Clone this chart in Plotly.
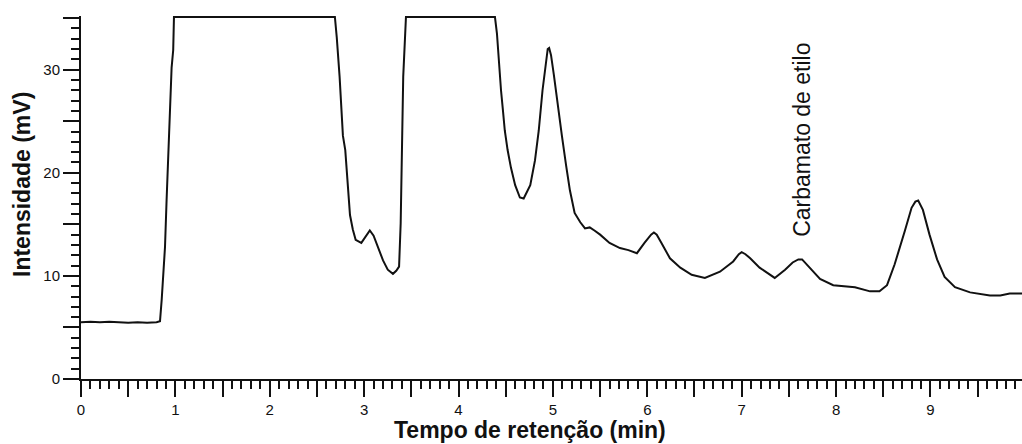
import plotly.graph_objects as go

# Chromatogram trace: retention time (min) vs detector signal (mV)
t_min = [
    0.00, 0.10, 0.20, 0.30, 0.40, 0.50, 0.60, 0.70, 0.80, 0.837,
    0.855, 0.872, 0.89, 0.907, 0.925, 0.943, 0.96, 0.977, 0.985,
    2.69, 2.71, 2.74, 2.775, 2.80, 2.83, 2.85, 2.88, 2.91, 2.97,
    3.01, 3.06, 3.10, 3.15, 3.20, 3.25, 3.305, 3.34, 3.37, 3.387,
    3.397, 3.414, 3.443,
    4.386, 4.407, 4.43, 4.45, 4.47, 4.49, 4.52, 4.555, 4.60, 4.65,
    4.69, 4.76, 4.81, 4.85, 4.89, 4.93, 4.945, 4.96, 4.98, 5.01,
    5.05, 5.095, 5.14, 5.18, 5.23, 5.29, 5.34, 5.39, 5.44, 5.50,
    5.60, 5.71, 5.80, 5.89, 5.97, 6.04, 6.07, 6.10, 6.15, 6.24,
    6.35, 6.47, 6.61, 6.77, 6.91, 6.97, 7.00, 7.04, 7.09, 7.19,
    7.35, 7.46, 7.54, 7.60, 7.64, 7.72, 7.83, 7.97, 8.20, 8.36,
    8.46, 8.54, 8.62, 8.73, 8.80, 8.84, 8.87, 8.92, 8.99, 9.07,
    9.15, 9.26, 9.42, 9.63, 9.74, 9.84, 9.97,
]
signal_mv = [
    5.5, 5.55, 5.5, 5.55, 5.5, 5.45, 5.5, 5.45, 5.5, 5.6,
    7.7, 9.9, 12.8, 17.4, 22.2, 26.1, 30.2, 31.9, 35.1,
    35.1, 33.1, 29.3, 23.6, 22.2, 17.8, 15.9, 14.5, 13.5, 13.2,
    13.7, 14.4, 13.9, 12.7, 11.5, 10.6, 10.2, 10.5, 10.9, 15.1,
    19.9, 29.3, 35.1,
    35.1, 33.5, 30.4, 28.0, 26.1, 24.1, 22.2, 20.5, 18.8, 17.6,
    17.5, 18.8, 21.2, 24.1, 28.0, 30.9, 32.0, 32.1, 31.4, 29.5,
    26.6, 23.6, 20.7, 18.3, 16.1, 15.2, 14.6, 14.7, 14.4, 14.0,
    13.2, 12.7, 12.5, 12.2, 13.2, 14.0, 14.2, 14.0, 13.2, 11.7,
    10.8, 10.1, 9.8, 10.4, 11.4, 12.1, 12.3, 12.1, 11.7, 10.8,
    9.8, 10.6, 11.3, 11.6, 11.6, 10.8, 9.7, 9.1, 8.9, 8.5,
    8.5, 9.1, 11.1, 14.4, 16.6, 17.2, 17.3, 16.4, 14.0, 11.6,
    9.9, 8.9, 8.4, 8.1, 8.1, 8.3, 8.3,
]

# Axis ticks
x_tick_vals = [i * 0.5 for i in range(20)]
x_tick_text = [str(int(v)) if v == int(v) else "" for v in x_tick_vals]
y_tick_vals = [0, 5, 10, 15, 20, 25, 30, 35]
y_tick_text = ["0", "", "10", "", "20", "", "30", ""]

x_title = "Tempo de retenção (min)"
y_title = "Intensidade (mV)"
peak_label = "Carbamato de etilo"
peak_time = 7.64

W, H = 1022, 444
L, R, T, B = 81, 0, 16, 65

fig = go.Figure()
fig.add_trace(go.Scatter(
    x=t_min, y=signal_mv, mode="lines",
    line=dict(color="#111111", width=2),
    showlegend=False, hoverinfo="skip",
))

tick_font = dict(family="Liberation Sans, Arial, sans-serif", size=15, color="#111111")

fig.update_layout(
    width=W, height=H,
    margin=dict(l=L, r=R, t=T, b=B),
    paper_bgcolor="white", plot_bgcolor="white",
    xaxis=dict(
        range=[0, 9.97], showgrid=False, zeroline=False,
        showline=True, linecolor="#111111", linewidth=2,
        tickmode="array", tickvals=x_tick_vals, ticktext=x_tick_text,
        ticks="outside", ticklen=16, tickwidth=2, tickcolor="#111111",
        tickfont=tick_font, ticklabelstandoff=0,
        minor=dict(tickmode="linear", tick0=0, dtick=0.1, ticks="outside",
                   ticklen=8, tickwidth=2, tickcolor="#111111"),
    ),
    yaxis=dict(
        range=[0, 35.2], showgrid=False, zeroline=False,
        showline=True, linecolor="#111111", linewidth=2,
        tickmode="array", tickvals=y_tick_vals, ticktext=y_tick_text,
        ticks="outside", ticklen=16, tickwidth=2, tickcolor="#111111",
        tickfont=tick_font, ticklabelstandoff=0,
        minor=dict(tickmode="linear", tick0=0, dtick=1, ticks="outside",
                   ticklen=8, tickwidth=2, tickcolor="#111111"),
    ),
)

plot_w = W - L - R
plot_h = H - T - B


def px_to_paper(px, py):
    return (px - L) / plot_w, (H - B - py) / plot_h


title_font = dict(family="Liberation Sans, Arial, sans-serif", size=23, color="#111111")

xt_x, xt_y = px_to_paper(530, 444)
fig.add_annotation(text=f"<b>{x_title}</b>", xref="paper", yref="paper",
                   x=xt_x, y=xt_y, xanchor="center", yanchor="bottom",
                   showarrow=False, font=title_font, borderpad=0)

yt_x, yt_y = px_to_paper(22, 185)
fig.add_annotation(text=f"<b>{y_title}</b>", xref="paper", yref="paper",
                   x=yt_x, y=yt_y, xanchor="center", yanchor="middle",
                   textangle=-90, showarrow=False, font=title_font)

fig.add_annotation(text=peak_label, xref="x", yref="y",
                   x=peak_time, y=23.2, xanchor="center", yanchor="middle",
                   textangle=-90, showarrow=False,
                   font=dict(family="Liberation Sans, Arial, sans-serif", size=23, color="#111111"))

fig.write_html("out.html")
